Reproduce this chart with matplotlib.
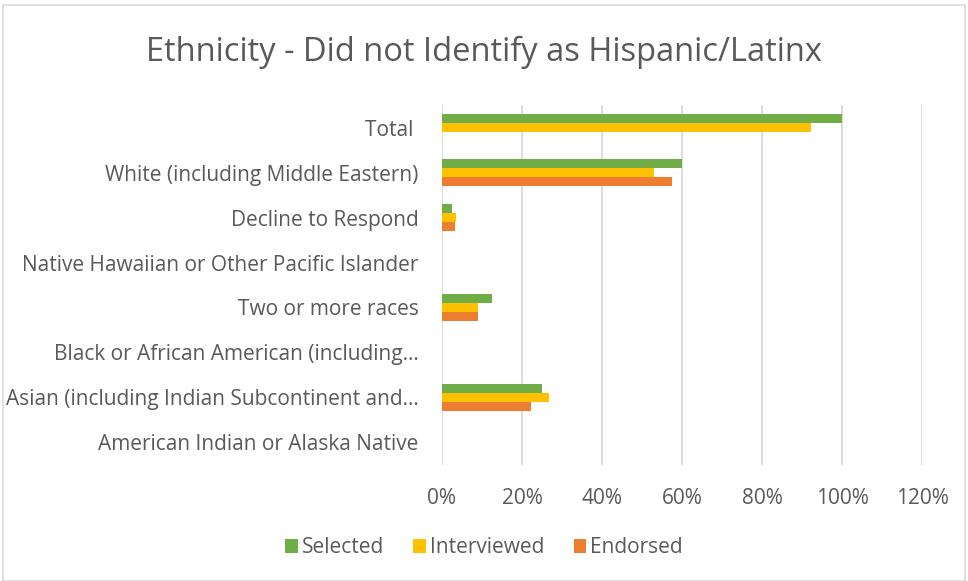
import matplotlib.pyplot as plt
import numpy as np
from matplotlib.patches import Rectangle
from matplotlib.ticker import PercentFormatter

plt.rcParams['font.family'] = ['Open Sans', 'DejaVu Sans']

# bottom to top, as Excel draws them
categories = ['American Indian or Alaska Native',
              'Asian (including Indian Subcontinent and\u2026',
              'Black or African American (including\u2026',
              'Two or more races',
              'Native Hawaiian or Other Pacific Islander',
              'Decline to Respond',
              'White (including Middle Eastern)',
              'Total ']
selected = [0, 25.0, 0, 12.5, 0, 2.4, 60.0, 100.0]
interviewed = [0, 26.8, 0, 8.9, 0, 3.4, 53.0, 92.3]
endorsed = [0, 22.2, 0, 9.0, 0, 3.2, 57.4, 0]

fig = plt.figure(figsize=(9.68, 5.81), dpi=100)
ax = fig.add_axes([0.4566, 0.2, 0.9525 - 0.4566, 0.619])

y = np.arange(len(categories))
h = 0.2
ax.barh(y + h, selected, height=h, color='#70AD47', label='Selected', zorder=3)
ax.barh(y, interviewed, height=h, color='#FFC000', label='Interviewed', zorder=3)
ax.barh(y - h, endorsed, height=h, color='#ED7D31', label='Endorsed', zorder=3)

ax.set_xlim(0, 120)
ax.set_ylim(-0.5, len(categories) - 0.5)
ax.set_xticks(np.arange(0, 121, 20))
ax.xaxis.set_major_formatter(PercentFormatter(decimals=0))
ax.set_yticks(y)
ax.set_yticklabels(categories)
ax.tick_params(axis='both', length=0, labelsize=15, colors='#595959')
ax.tick_params(axis='y', pad=17)
ax.tick_params(axis='x', pad=17)
ax.grid(axis='x', color='#D9D9D9', linewidth=1.3, zorder=0)
for s in ax.spines.values():
    s.set_visible(False)

fig.text(0.5, 0.91, 'Ethnicity - Did not Identify as Hispanic/Latinx',
         ha='center', va='center', fontsize=23.5, color='#595959')

ax.legend(loc='center', bbox_to_anchor=(0.5, 0.057), bbox_transform=fig.transFigure,
          ncol=3, frameon=False, fontsize=15, labelcolor='#595959',
          handlelength=0.6, handleheight=0.6, handletextpad=0.2, columnspacing=1.4)

fig.patches.append(Rectangle((0.003, 0.0), 0.994, 0.992, transform=fig.transFigure,
                             fill=False, edgecolor='#D9D9D9', linewidth=1.2))

fig.savefig('out.png', dpi=100)
